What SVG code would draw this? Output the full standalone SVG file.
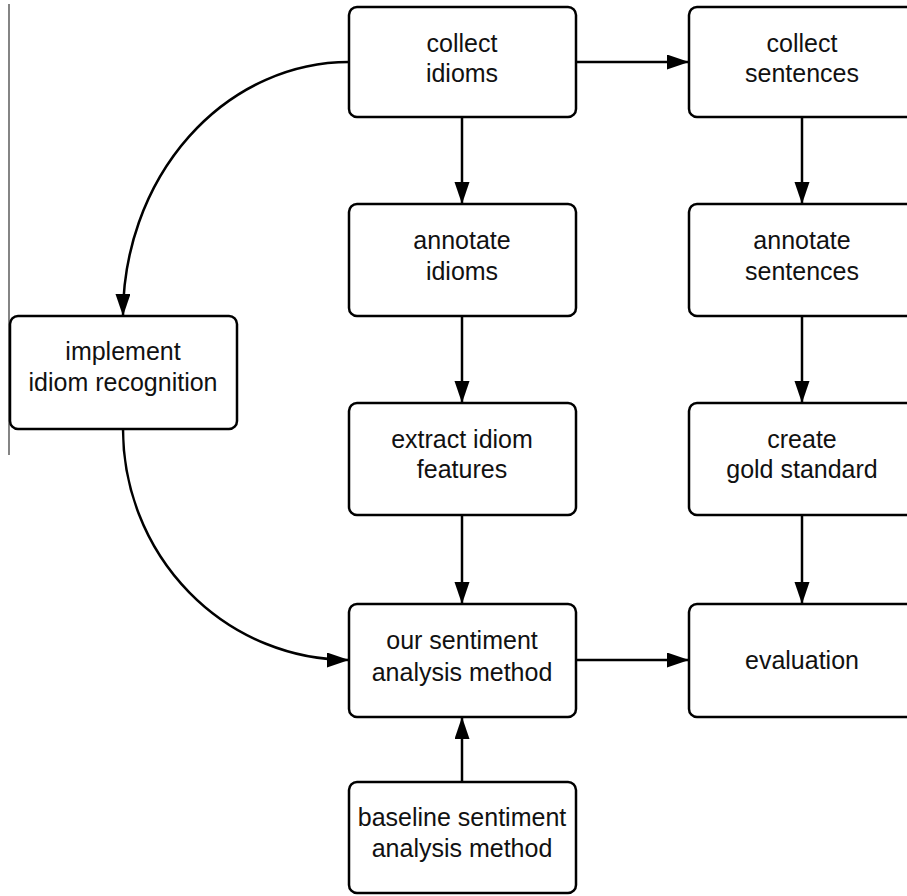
<svg xmlns="http://www.w3.org/2000/svg" width="907" height="896" viewBox="0 0 907 896">
<style>
.box{fill:#fff;stroke:#000;stroke-width:2.5}
.lbl{font-family:"Liberation Sans",Arial,sans-serif;font-size:25px;fill:#111;text-anchor:middle}
.edge{fill:none;stroke:#000;stroke-width:2.5}
</style>
<defs>
<marker id="ah" markerUnits="userSpaceOnUse" markerWidth="23" markerHeight="16" refX="22" refY="7.5" orient="auto">
<path d="M0,0 L22,7.5 L0,15 z" fill="#000"/>
</marker>
</defs>
<rect width="907" height="896" fill="#fff"/>
<line x1="9" y1="4" x2="9" y2="455" stroke="#333" stroke-width="1.2"/>
<g id="connectors">
<path class="edge" d="M576,62 H689" marker-end="url(#ah)"/>
<path class="edge" d="M462,117 V204" marker-end="url(#ah)"/>
<path class="edge" d="M462,316 V403" marker-end="url(#ah)"/>
<path class="edge" d="M462,515 V604" marker-end="url(#ah)"/>
<path class="edge" d="M462,782 V717" marker-end="url(#ah)"/>
<path class="edge" d="M802,117 V204" marker-end="url(#ah)"/>
<path class="edge" d="M802,316 V403" marker-end="url(#ah)"/>
<path class="edge" d="M802,515 V604" marker-end="url(#ah)"/>
<path class="edge" d="M576,660 H689" marker-end="url(#ah)"/>
<path class="edge" d="M349,62 A226,254 0 0 0 123,316" marker-end="url(#ah)"/>
<path class="edge" d="M123,429 A226,231 0 0 0 349,660" marker-end="url(#ah)"/>
</g>
<g id="collect-idioms"><rect class="box" x="349" y="7" width="227" height="110" rx="8"/><text class="lbl" x="462" y="52">collect</text><text class="lbl" x="462" y="82">idioms</text></g>
<g id="collect-sentences"><rect class="box" x="689" y="7" width="227" height="110" rx="8"/><text class="lbl" x="802" y="52">collect</text><text class="lbl" x="802" y="82">sentences</text></g>
<g id="annotate-idioms"><rect class="box" x="349" y="204" width="227" height="112" rx="8"/><text class="lbl" x="462" y="249">annotate</text><text class="lbl" x="462" y="280">idioms</text></g>
<g id="annotate-sentences"><rect class="box" x="689" y="204" width="227" height="112" rx="8"/><text class="lbl" x="802" y="249">annotate</text><text class="lbl" x="802" y="280">sentences</text></g>
<g id="implement"><rect class="box" x="10" y="316" width="227" height="113" rx="8"/><text class="lbl" x="123" y="360">implement</text><text class="lbl" x="123" y="391">idiom recognition</text></g>
<g id="extract"><rect class="box" x="349" y="403" width="227" height="112" rx="8"/><text class="lbl" x="462" y="448">extract idiom</text><text class="lbl" x="462" y="478">features</text></g>
<g id="gold"><rect class="box" x="689" y="403" width="227" height="112" rx="8"/><text class="lbl" x="802" y="448">create</text><text class="lbl" x="802" y="478">gold standard</text></g>
<g id="our-method"><rect class="box" x="349" y="604" width="227" height="113" rx="8"/><text class="lbl" x="462" y="649">our sentiment</text><text class="lbl" x="462" y="681">analysis method</text></g>
<g id="evaluation"><rect class="box" x="689" y="604" width="227" height="113" rx="8"/><text class="lbl" x="802" y="669">evaluation</text></g>
<g id="baseline"><rect class="box" x="349" y="782" width="227" height="111" rx="8"/><text class="lbl" x="462" y="826">baseline sentiment</text><text class="lbl" x="462" y="857">analysis method</text></g>
</svg>
